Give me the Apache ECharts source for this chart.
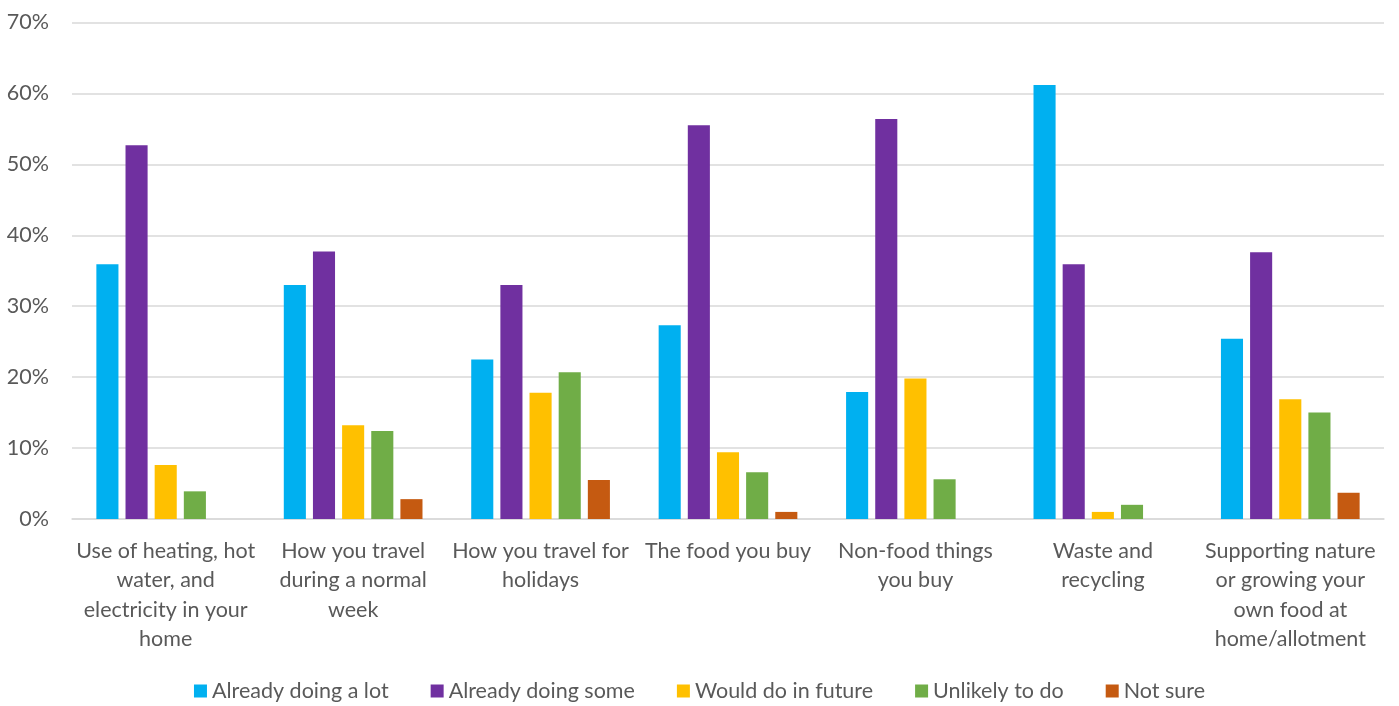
<!DOCTYPE html>
<html>
<head>
<meta charset="utf-8">
<script src="https://cdn.jsdelivr.net/npm/echarts@6/dist/echarts.min.js"></script>
<style>
html,body{margin:0;padding:0;background:#fff;}
#chart{width:1399px;height:706px;}
</style>
</head>
<body>
<div id="chart"></div>
<script>
const categories = [
  "Use of heating, hot\nwater, and\nelectricity in your\nhome",
  "How you travel\nduring a normal\nweek",
  "How you travel for\nholidays",
  "The food you buy",
  "Non-food things\nyou buy",
  "Waste and\nrecycling",
  "Supporting nature\nor growing your\nown food at\nhome/allotment"
];
const seriesNames = ["Already doing a lot", "Already doing some", "Would do in future", "Unlikely to do", "Not sure"];
const alreadyLot  = [35.9, 33.0, 22.5, 27.3, 17.9, 61.2, 25.4];
const alreadySome = [52.7, 37.7, 33.0, 55.5, 56.4, 35.9, 37.6];
const wouldFuture = [7.6, 13.2, 17.8, 9.4, 19.8, 1.0, 16.9];
const unlikely    = [3.9, 12.4, 20.7, 6.6, 5.6, 2.0, 15.0];
const notSure     = [0, 2.8, 5.5, 1.0, 0, 0, 3.7];
const yTicks = [0, 10, 20, 30, 40, 50, 60, 70];

const colors = ["#00B0F0", "#7030A0", "#FFC000", "#70AD47", "#C55A11"];
const dataSets = [alreadyLot, alreadySome, wouldFuture, unlikely, notSure];
const font = "Lato, 'Open Sans', sans-serif";
const textColor = "#595959";

const chart = echarts.init(document.getElementById('chart'), null, {renderer: 'canvas'});
chart.setOption({
  animation: false,
  color: colors,
  textStyle: {fontFamily: font},
  grid: {left: 72, right: 15, top: 22.5, bottom: 187, containLabel: false},
  legend: {
    top: 675,
    left: 'center',
    icon: 'rect',
    itemWidth: 13,
    itemHeight: 13,
    itemGap: 42,
    textStyle: {color: textColor, fontSize: 21.5, fontFamily: font},
    data: seriesNames
  },
  xAxis: {
    type: 'category',
    data: categories,
    axisLine: {show: true, lineStyle: {color: '#D9D9D9', width: 1.5}},
    axisTick: {show: false},
    axisLabel: {color: textColor, fontSize: 21.5, lineHeight: 29.5, interval: 0, margin: 17, fontFamily: font}
  },
  yAxis: {
    type: 'value',
    min: yTicks[0],
    max: yTicks[yTicks.length - 1],
    interval: 10,
    axisLine: {show: false},
    axisTick: {show: false},
    splitLine: {lineStyle: {color: '#D9D9D9', width: 1.5}},
    axisLabel: {color: textColor, fontSize: 21.5, margin: 23, formatter: v => v + '%', fontFamily: font}
  },
  series: seriesNames.map((name, i) => ({
    name: name,
    type: 'bar',
    data: dataSets[i],
    barGap: '32%',
    barCategoryGap: '26%',
    itemStyle: {color: colors[i]}
  }))
});
</script>
</body>
</html>
